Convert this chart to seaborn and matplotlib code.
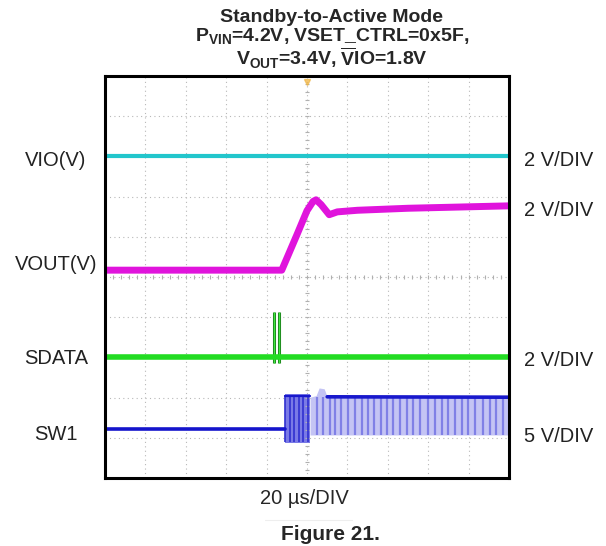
import numpy as np
import matplotlib
matplotlib.use('Agg')
import matplotlib.pyplot as plt
import seaborn as sns

sns.set_style('white')
plt.rcParams['font.family'] = ['Liberation Sans', 'DejaVu Sans']
plt.rcParams['mathtext.fontset'] = 'custom'
plt.rcParams['mathtext.rm'] = 'Liberation Sans'
plt.rcParams['mathtext.bf'] = 'Liberation Sans:bold'

# time in us (20 us/DIV, 10 DIV), level in screen divisions (0..10 from bottom)
vio_t = [0, 200]
vio_v = [8.0, 8.0]

vout_t = [0, 87.5, 95, 100, 103, 104.5, 107, 111, 115, 125, 150, 175, 200]
vout_v = [5.17, 5.17, 6.05, 6.65, 6.88, 6.92, 6.80, 6.55, 6.62, 6.66, 6.71, 6.74, 6.77]

sdata_t = [0, 200]
sdata_v = [3.0, 3.0]
spike_t = [83.6, 85.9]
spike_top = 4.12
spike_bottom = 2.86

sw1_low_t = [0, 89.0]
sw1_low_v = [1.22, 1.22]
burst_t = [89.0, 101.5]
burst_hi = [2.09, 2.09]
burst_lo = [0.87, 0.87]
burst_lines = [89.3, 91.5, 93.8, 96.0, 98.2, 100.4]
ring_t = [101.5, 104.5, 106.0, 108.5, 110.0, 200]
ring_hi = [2.01, 2.05, 2.24, 2.22, 2.02, 2.01]
ring_lo = [1.07, 1.07, 1.07, 1.07, 1.07, 1.07]
stripe_t = [104.8, 107.8, 111.4, 114.0, 116.7, 120.4, 123.8, 127.1, 130.3, 133.1,
            136.5, 139.5, 142.7, 146.0, 149.3, 152.6, 155.9, 160.0, 163.3, 166.6,
            169.9, 173.2, 176.5, 179.8, 183.1, 187.2, 190.5, 193.8, 197.1]

left_labels = ['VIO(V)', 'VOUT(V)', 'SDATA', 'SW1']
left_y = [160, 264, 359, 435]
right_labels = ['2 V/DIV', '2 V/DIV', '2 V/DIV', '5 V/DIV']
right_y = [160, 211, 360, 436]

W, H = 606, 546
fig = plt.figure(figsize=(W / 100, H / 100), dpi=100)
ax = fig.add_axes([105 / W, 68 / H, 404 / W, 402 / H])

# scope graticule
ax.set_xlim(0, 200)
ax.set_ylim(0, 10)
ax.set_xticks(np.arange(0, 201, 20))
ax.set_yticks(np.arange(0, 11, 1))
ax.grid(True, ls=(0, (1, 3)), color='#b8b8b8', lw=0.8)
ax.tick_params(length=0, labelbottom=False, labelleft=False)
ax.plot(np.arange(0, 200.1, 4), [5] * 51, ls='none', marker='|', ms=3,
        color='#b0b0b0', mew=0.8)
ax.plot([100] * 51, np.arange(0, 10.01, 0.2), ls='none', marker='_', ms=3,
        color='#b0b0b0', mew=0.8)
for s in ax.spines.values():
    s.set_color('black')
    s.set_linewidth(2.2)

# SW1 switching
ax.fill_between(ring_t, ring_lo, ring_hi, color='#c4c4f4', lw=0)
ax.vlines(stripe_t, 1.07, 2.01, color='#8080e6', lw=1.6)
ax.fill_between(burst_t, burst_lo, burst_hi, color='#7a7ae6', lw=0)
ax.vlines(burst_lines, 0.9, 2.07, color='#3030d0', lw=1.2)
sns.lineplot(x=ring_t[4:], y=ring_hi[4:], ax=ax, color='#1818cc', lw=2.6,
             estimator=None, sort=False, legend=False)
sns.lineplot(x=burst_t, y=[2.05, 2.05], ax=ax, color='#1818cc', lw=1.6,
             estimator=None, sort=False, legend=False)
sns.lineplot(x=sw1_low_t, y=sw1_low_v, ax=ax, color='#1414cc', lw=2.6,
             estimator=None, sort=False, legend=False)

# other channels
sns.lineplot(x=vio_t, y=vio_v, ax=ax, color='#22c6cc', lw=3,
             estimator=None, sort=False, legend=False)
sns.lineplot(x=vout_t, y=vout_v, ax=ax, color='#e014dc', lw=5,
             estimator=None, sort=False, legend=False)
ax.vlines(spike_t, spike_bottom, spike_top, color='#1f8a1f', lw=2.2)
ax.vlines(spike_t, spike_bottom, spike_top, color='#3ee83e', lw=0.8)
sns.lineplot(x=sdata_t, y=sdata_v, ax=ax, color='#22dc22', lw=4,
             estimator=None, sort=False, legend=False)

# trigger marker
ax.plot([100], [9.85], marker='v', ms=5, color='#f0b440', alpha=0.7)

# channel labels
for lab, py in zip(left_labels, left_y):
    fig.text(56 / W, 1 - py / H, lab, ha='center', va='center', fontsize=14.5,
             color='#222222')
for lab, py in zip(right_labels, right_y):
    fig.text(524 / W, 1 - py / H, lab, ha='left', va='center', fontsize=14.5,
             color='#222222')

# title
fig.text(332 / W, 1 - 18 / H, 'Standby-to-Active Mode', ha='center', va='center',
         fontsize=14, fontweight='bold')
fig.text(332 / W, 1 - 37 / H, r'P$_{\mathbf{VIN}}$=4.2V, VSET_CTRL=0x5F,',
         ha='center', va='center', fontsize=14, fontweight='bold')
fig.text(332 / W, 1 - 58 / H, r'V$_{\mathbf{OUT}}$=3.4V, $\overline{\mathbf{V}}$IO=1.8V',
         ha='center', va='center', fontsize=14, fontweight='bold')

fig.text(304 / W, 1 - 498 / H, '20 µs/DIV', ha='center', va='center', fontsize=14.5)
fig.add_artist(plt.Line2D([265 / W, 352 / W], [1 - 520 / H, 1 - 520 / H],
                          color='#eeeeee', lw=0.8))
fig.text(330 / W, 1 - 535 / H, 'Figure 21.', ha='center', va='center',
         fontsize=15, fontweight='bold')

fig.savefig('out.png', dpi=100)
